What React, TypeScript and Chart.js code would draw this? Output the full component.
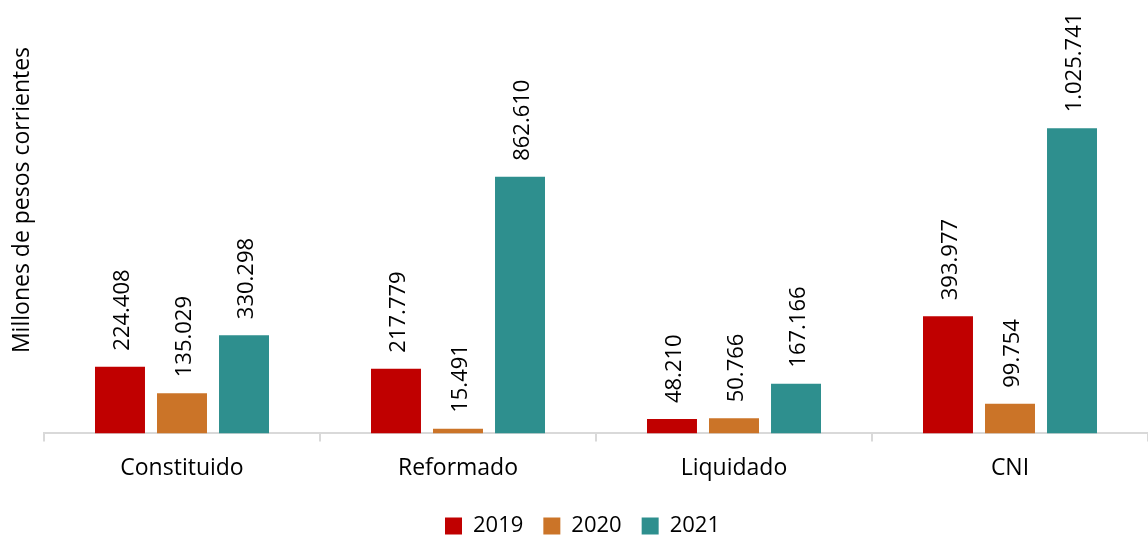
import React, { useEffect, useRef } from "react";
import { Chart, registerables } from "chart.js";

Chart.register(...registerables);

const categories = ["Constituido", "Reformado", "Liquidado", "CNI"];
const seriesNames = ["2019", "2020", "2021"];
const values2019 = [224408, 217779, 48210, 393977];
const values2020 = [135029, 15491, 50766, 99754];
const values2021 = [330298, 862610, 167166, 1025741];
const seriesColors = ["#C00000", "#CB7428", "#2E8F8E"];
const yTitle = "Millones de pesos corrientes";

const FONT = "'Open Sans', 'Noto Sans', sans-serif";

function fmt(v: number): string {
  return String(v).replace(/\B(?=(\d{3})+(?!\d))/g, ".");
}

const labelsPlugin = {
  id: "barLabels",
  afterDatasetsDraw(chart: any) {
    const ctx = chart.ctx;
    ctx.save();
    ctx.fillStyle = "#000000";
    ctx.font = `22px ${FONT}`;
    ctx.textAlign = "left";
    ctx.textBaseline = "middle";
    chart.data.datasets.forEach((ds: any, i: number) => {
      const meta = chart.getDatasetMeta(i);
      meta.data.forEach((bar: any, j: number) => {
        const v = ds.data[j] as number;
        ctx.save();
        ctx.translate(bar.x + 3, bar.y - 16);
        ctx.rotate(-Math.PI / 2);
        ctx.fillText(fmt(v), 0, 0);
        ctx.restore();
      });
    });
    // y axis title
    ctx.font = `23px ${FONT}`;
    ctx.textAlign = "center";
    ctx.textBaseline = "middle";
    ctx.fillStyle = "#000000";
    ctx.translate(22, 200);
    ctx.rotate(-Math.PI / 2);
    ctx.fillText(yTitle, 0, 0);
    ctx.restore();
  },
};

export default function App() {
  const ref = useRef<HTMLCanvasElement | null>(null);
  useEffect(() => {
    document.body.style.margin = "0";
    const canvas = ref.current;
    if (!canvas) return;
    const allValues = [values2019, values2020, values2021];
    const chart = new Chart(canvas, {
      type: "bar",
      data: {
        labels: categories,
        datasets: seriesNames.map((name, i) => ({
          label: name,
          data: allValues[i],
          backgroundColor: seriesColors[i],
          borderWidth: 0,
          categoryPercentage: 0.674,
          barPercentage: 0.806,
        })),
      },
      options: {
        animation: false,
        responsive: false,
        maintainAspectRatio: false,
        layout: { padding: { left: 17, right: 0, top: 17, bottom: -9 } },
        plugins: {
          legend: {
            position: "bottom",
            labels: {
              boxWidth: 17,
              boxHeight: 17,
              padding: 20,
              color: "#000000",
              font: { family: FONT, size: 22 },
            },
          },
          tooltip: { enabled: false },
        },
        scales: {
          x: {
            grid: {
              display: true,
              offset: true,
              drawOnChartArea: false,
              color: "#d9d9d9",
              lineWidth: 2,
              tickLength: 8,
            },
            border: { display: true, color: "#d9d9d9", width: 2 },
            ticks: {
              color: "#000000",
              padding: 13,
              font: { family: FONT, size: 23 },
            },
          },
          y: {
            display: true,
            min: 0,
            max: 1400000,
            grid: { display: false },
            border: { display: false },
            ticks: { display: false },
            afterFit: (scale: any) => {
              scale.width = 27;
            },
          },
        },
      },
      plugins: [labelsPlugin],
    });
    return () => chart.destroy();
  }, []);
  return (
    <div style={{ width: 1148, height: 538 }}>
      <canvas ref={ref} width={1148} height={538} style={{ display: "block" }} />
    </div>
  );
}
